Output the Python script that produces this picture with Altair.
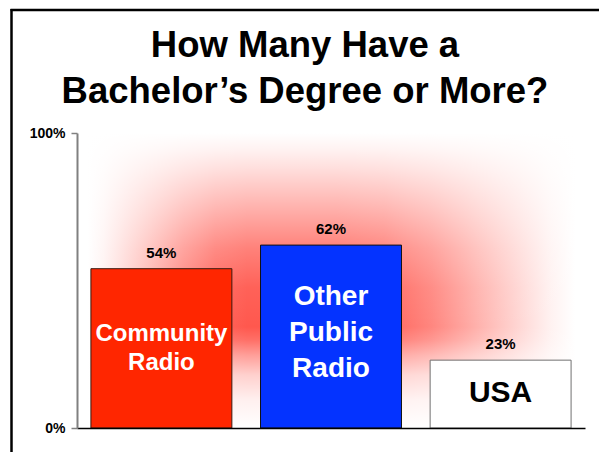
import altair as alt
import pandas as pd

# ---- data ----
categories = ["Community Radio", "Other Public Radio", "USA"]
inside_labels = ["Community\nRadio", "Other\nPublic\nRadio", "USA"]
values = [54, 62, 23]
y_tick_values = [0, 100]
title_text = "How Many Have a\nBachelor’s Degree or More?"

# ---- styles ----
bar_colors = ["#FF2600", "#0433FF", "#FFFFFF"]
bar_strokes = ["#3A1A10", "#111111", "#707070"]
FONT = "Liberation Sans"
W, H = 508, 295

df = pd.DataFrame({"category": categories, "inside": inside_labels, "pct": values})
one = pd.DataFrame({"k": [0]})

x_axis = alt.Axis(labels=False, ticks=False, title=None, domainColor="black",
                  domainWidth=1.5, zindex=1)
y_axis = alt.Axis(values=y_tick_values, labelExpr="datum.value + '%'", title=None,
                  grid=False, domainColor="#808080", domainWidth=2,
                  tickColor="#808080", tickWidth=1.5, tickSize=6,
                  labelFont=FONT, labelFontWeight="bold", labelFontSize=14,
                  labelColor="black", labelPadding=6, zindex=1)
x_scale = alt.Scale(paddingInner=0.169, paddingOuter=0.082)
y_scale = alt.Scale(domain=[0, 100])


def X():
    return alt.X("category:N", sort=categories, scale=x_scale, axis=x_axis)


def Y(field):
    return alt.Y(field, scale=y_scale, axis=y_axis)


# ---- glow background (rectangular red glow approximated by two gradients) ----
PEAK = (255, 88, 78)


def mix(r):
    return "#%02x%02x%02x" % tuple(round(255 + (c - 255) * r) for c in PEAK)


hstops = [(0, 0), (0.0326, 0.08), (0.0653, 0.2), (0.1306, 0.45), (0.1959, 0.72),
          (0.2612, 0.92), (0.3265, 1), (0.5113, 1), (0.609, 0.92), (0.7068, 0.72),
          (0.8045, 0.45), (0.9023, 0.2), (0.9511, 0.08), (1, 0)]
vstops = [(0, 0), (0.0566, 0.08), (0.1234, 0.2), (0.2569, 0.47), (0.3905, 0.75),
          (0.524, 0.94), (0.6576, 1), (0.7017, 0.86), (0.7525, 0.58), (0.8203, 0.28),
          (0.9051, 0.09), (1, 0)]

bg_h = alt.Chart(one).mark_rect(
    fill=alt.Gradient(gradient="linear", x1=0, y1=0, x2=1, y2=0,
                      stops=[alt.GradientStop(offset=o, color=mix(r)) for o, r in hstops])
).encode(x=alt.value(11), x2=alt.value(498), y=alt.value(0), y2=alt.value(H))

bg_v = alt.Chart(one).mark_rect(
    fill=alt.Gradient(gradient="linear", x1=0, y1=0, x2=0, y2=1,
                      stops=[alt.GradientStop(offset=o, color=f"rgba(255,255,255,{1 - r:.3f})")
                             for o, r in vstops])
).encode(x=alt.value(11), x2=alt.value(498), y=alt.value(0), y2=alt.value(H))

bars = alt.Chart(df).mark_bar(strokeWidth=1).encode(
    x=X(),
    y=Y("pct:Q"),
    color=alt.Color("category:N", scale=alt.Scale(domain=categories, range=bar_colors), legend=None),
    stroke=alt.Stroke("category:N", scale=alt.Scale(domain=categories, range=bar_strokes), legend=None),
)

top_labels = alt.Chart(df).transform_calculate(lbl="datum.pct + '%'").mark_text(
    font=FONT, fontWeight="bold", fontSize=15, baseline="alphabetic", dy=-11, color="black"
).encode(x=X(), y=Y("pct:Q"), text="lbl:N")

inside_specs = [("Community Radio", 24, 29, "white", -14),
                ("Other Public Radio", 28, 36, "white", -40),
                ("USA", 30, 30, "black", -1)]
inside_layers = []
for cat, fs, lh, col, dy in inside_specs:
    inside_layers.append(
        alt.Chart(df).transform_filter(alt.datum.category == cat)
        .transform_calculate(mid="datum.pct / 2")
        .mark_text(font=FONT, fontWeight="bold", fontSize=fs, lineHeight=lh, color=col,
                   lineBreak="\n", baseline="middle", dy=dy)
        .encode(x=X(), y=Y("mid:Q"), text="inside:N")
    )

title = alt.Chart(one).mark_text(
    text=title_text, lineBreak="\n", font=FONT, fontWeight="bold", fontSize=36.5,
    lineHeight=46, baseline="alphabetic", align="center", color="black"
).encode(x=alt.value(228), y=alt.value(-76))

frame_left = alt.Chart(one).mark_rule(color="black", strokeWidth=2.5).encode(
    x=alt.value(-65.5), y=alt.value(-124), y2=alt.value(H + 40))
frame_top = alt.Chart(one).mark_rule(color="black", strokeWidth=2.5).encode(
    x=alt.value(-66.5), x2=alt.value(W + 30), y=alt.value(-123))

chart = alt.layer(bg_h, bg_v, bars, top_labels, *inside_layers, title, frame_left, frame_top).properties(
    width=W, height=H,
    autosize=alt.AutoSizeParams(type="none"),
    padding={"left": 69, "top": 125, "right": 14, "bottom": 24},
    background="white",
).configure_view(stroke=None)

chart.save("out.html", embed_options={"renderer": "svg", "actions": False})
